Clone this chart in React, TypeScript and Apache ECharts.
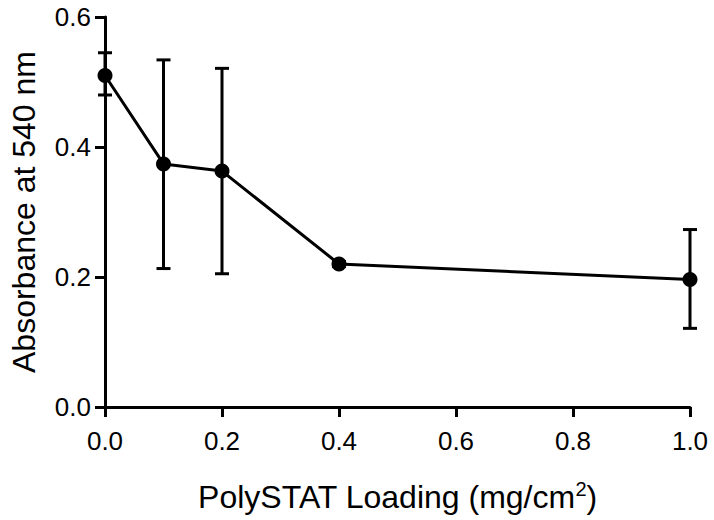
import React, { useEffect, useRef } from "react";
import * as echarts from "echarts";

const loading = [0.0, 0.1, 0.2, 0.4, 1.0];
const absorbance = [0.51, 0.374, 0.363, 0.22, 0.196];
const errHigh = [0.545, 0.534, 0.521, 0.224, 0.273];
const errLow = [0.48, 0.213, 0.205, 0.216, 0.121];

const FONT = "'Liberation Sans', Arial, Helvetica, sans-serif";

export default function App() {
  const ref = useRef<HTMLDivElement>(null);
  useEffect(() => {
    if (!ref.current) return;
    const chart = echarts.init(ref.current, undefined, { renderer: "svg" });
    const lineData = loading.map((x, i) => [x, absorbance[i]]);
    const errData = loading.map((x, i) => [x, errLow[i], errHigh[i]]);
    chart.setOption({
      animation: false,
      backgroundColor: "#fff",
      grid: { left: 101, right: 24, top: 17, bottom: 113, containLabel: false },
      xAxis: {
        type: "value",
        min: 0,
        max: 1,
        interval: 0.2,
        name: "{t|PolySTAT Loading (mg/cm}{s|2}{t|)}",
        nameLocation: "middle",
        nameGap: 72,
        nameTextStyle: {
          rich: {
            t: { fontSize: 32, fontFamily: FONT, color: "#000" },
            s: { fontSize: 20, fontFamily: FONT, color: "#000", verticalAlign: "top", padding: [0, 0, 16, 0] },
          },
        },
        axisLine: { show: true, onZero: false, lineStyle: { color: "#000", width: 3 } },
        axisTick: { show: true, length: 10, lineStyle: { color: "#000", width: 3 } },
        axisLabel: {
          fontSize: 26,
          fontFamily: FONT,
          color: "#000",
          margin: 21,
          formatter: (v: number) => v.toFixed(1),
        },
        splitLine: { show: false },
      },
      yAxis: {
        type: "value",
        min: 0,
        max: 0.6,
        interval: 0.2,
        name: "Absorbance at 540 nm",
        nameLocation: "middle",
        nameGap: 65,
        nameTextStyle: { fontSize: 32, fontFamily: FONT, color: "#000" },
        axisLine: { show: true, onZero: false, lineStyle: { color: "#000", width: 3 } },
        axisTick: { show: true, length: 10, lineStyle: { color: "#000", width: 3 } },
        axisLabel: {
          fontSize: 26,
          fontFamily: FONT,
          color: "#000",
          margin: 14,
          formatter: (v: number) => v.toFixed(1),
        },
        splitLine: { show: false },
      },
      series: [
        {
          type: "custom",
          data: errData,
          z: 2,
          renderItem: (params: any, api: any) => {
            const x = api.value(0);
            const lo = api.coord([x, api.value(1)]);
            const hi = api.coord([x, api.value(2)]);
            const half = 7;
            const style = { stroke: "#000", lineWidth: 3 };
            return {
              type: "group",
              children: [
                { type: "line", shape: { x1: hi[0], y1: hi[1], x2: lo[0], y2: lo[1] }, style },
                { type: "line", shape: { x1: hi[0] - half, y1: hi[1], x2: hi[0] + half, y2: hi[1] }, style },
                { type: "line", shape: { x1: lo[0] - half, y1: lo[1], x2: lo[0] + half, y2: lo[1] }, style },
              ],
            };
          },
        },
        {
          type: "line",
          data: lineData,
          z: 3,
          symbol: "circle",
          symbolSize: 15,
          itemStyle: { color: "#000" },
          lineStyle: { color: "#000", width: 3 },
        },
      ],
    });
    return () => chart.dispose();
  }, []);
  return <div ref={ref} style={{ width: 714, height: 520, position: "absolute", left: 0, top: 0 }} />;
}
